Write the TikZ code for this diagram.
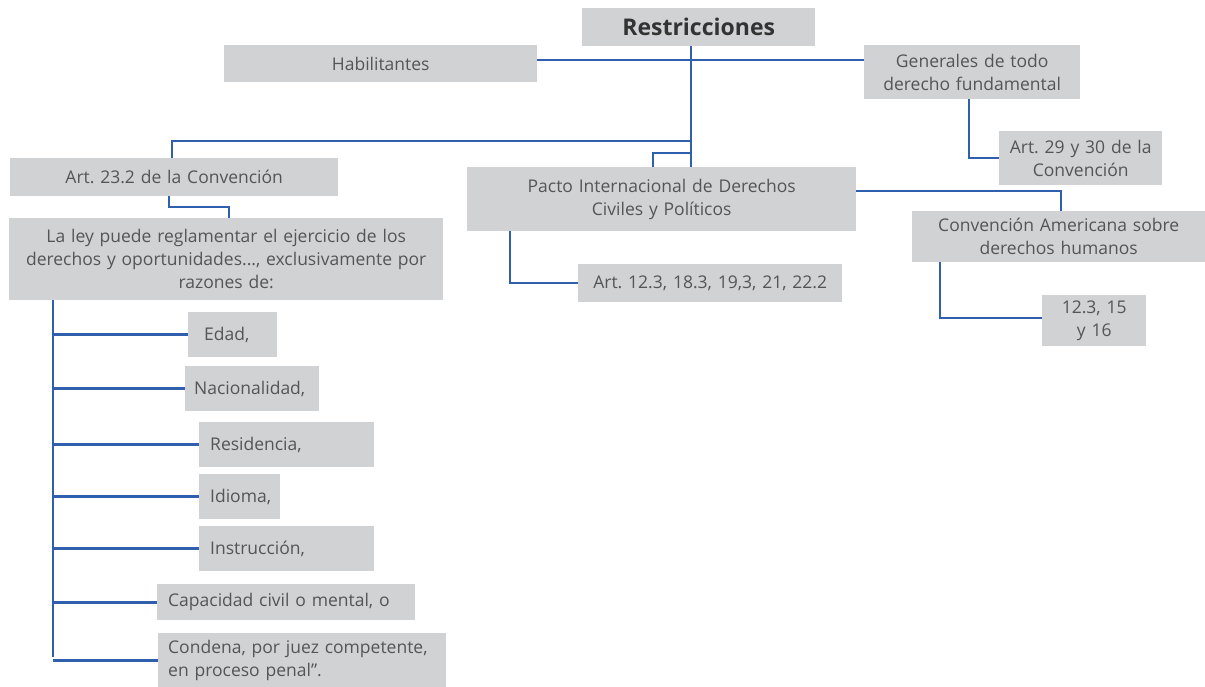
\documentclass[tikz,border=0pt]{standalone}
\usepackage{fontspec}
\setmainfont{Open Sans}
\definecolor{boxgray}{HTML}{D1D2D4}
\definecolor{txtgray}{HTML}{555555}
\definecolor{linkblue}{HTML}{2F5FAD}
\begin{document}
\begin{tikzpicture}[x=1pt,y=-1pt,
  box/.style={fill=boxgray, text=txtgray, inner sep=0pt, anchor=north west,
    font=\fontsize{17.5}{23}\selectfont, align=center},
  lbox/.style={box, align=left},
  link/.style={draw=linkblue, line width=2.6pt}]
\useasboundingbox (0,0) rectangle (1205,687);

% top level
\node[box, minimum width=233, minimum height=38, text width=233,
  font=\fontsize{23}{26}\selectfont\bfseries, text=black!80] (restr) at (582,8) {Restricciones};
\node[box, minimum width=313, minimum height=37, text width=313] (habil) at (224,45) {Habilitantes};
\node[box, minimum width=216, minimum height=54, text width=216] (gener) at (864,45) {Generales de todo\\derecho fundamental};
\node[box, minimum width=163, minimum height=54, text width=163] (art29) at (999,131) {Art.\ 29 y 30 de la\\Convención};

% left branch
\node[box, minimum width=328, minimum height=38, text width=328] (art23) at (10,158) {Art.\ 23.2 de la Convención};
\node[box, minimum width=434, minimum height=82, text width=434] (ley) at (9,218) {La ley puede reglamentar el ejercicio de los\\derechos y oportunidades..., exclusivamente por\\razones de:};

% middle branch
\node[box, minimum width=389, minimum height=64, text width=389] (pacto) at (467,167) {Pacto Internacional de Derechos\\Civiles y Políticos};
\node[box, minimum width=264, minimum height=38, text width=264] (art12) at (578,264) {Art.\ 12.3, 18.3, 19,3, 21, 22.2};

% right branch
\node[box, minimum width=293, minimum height=51, text width=293] (conv) at (912,211) {Convención Americana sobre\\derechos humanos};
\node[box, minimum width=104, minimum height=51, text width=104] (art15) at (1042,295) {12.3, 15\\y 16};

% list of reasons
\node[lbox, minimum width=89, minimum height=45, text width=57, inner xsep=16pt] (edad) at (188,312) {Edad,};
\node[lbox, minimum width=134, minimum height=45, text width=116, inner xsep=9pt] (nac) at (185,366) {Nacionalidad,};
\node[lbox, minimum width=175, minimum height=45, text width=153, inner xsep=11pt] (resid) at (199,422) {Residencia,};
\node[lbox, minimum width=81, minimum height=45, text width=59, inner xsep=11pt] (idio) at (199,474) {Idioma,};
\node[lbox, minimum width=175, minimum height=45, text width=153, inner xsep=11pt] (instr) at (199,526) {Instrucción,};
\node[lbox, minimum width=258, minimum height=36, text width=236, inner xsep=11pt] (capac) at (157,584) {Capacidad civil o mental, o};
\node[lbox, minimum width=288, minimum height=54, text width=268, inner xsep=10pt] (conde) at (158,633) {Condena, por juez competente,\\en proceso penal”.};

% connectors from the title
\coordinate (trunkA) at (691,141);
\coordinate (trunkB) at (691,153);
\draw[link] (restr.south -| trunkA) -- (trunkA |- pacto.north);
\draw[link] (habil.east |- 0,60) -- (gener.west |- 0,60);
\draw[link] (trunkA) -| (172,158) coordinate (a23) -- (a23 |- art23.north);
\draw[link] (trunkB) -| (653,167) coordinate (pc) -- (pc |- pacto.north);

% art. 23.2 to its text
\draw[link] (art23.south -| 169,0) |- (229,207) -- (ley.north -| 229,0);

% general restrictions
\draw[link] (gener.south -| 969,0) |- (art29.west |- 0,158);

% pacto and its children
\draw[link] (pacto.east |- 0,191) -| (conv.north -| 1061,0);
\draw[link] (pacto.south -| 510,0) |- (art12.west |- 0,283);
\draw[link] (conv.south -| 940,0) |- (art15.west |- 0,318);

% reasons list
\draw[link] (ley.south -| 53,0) -- (53,657);
\foreach \n in {edad,nac,resid,idio,instr,capac,conde}
  \draw[link] (53,0 |- \n.west) -- (\n.west);
\end{tikzpicture}
\end{document}
